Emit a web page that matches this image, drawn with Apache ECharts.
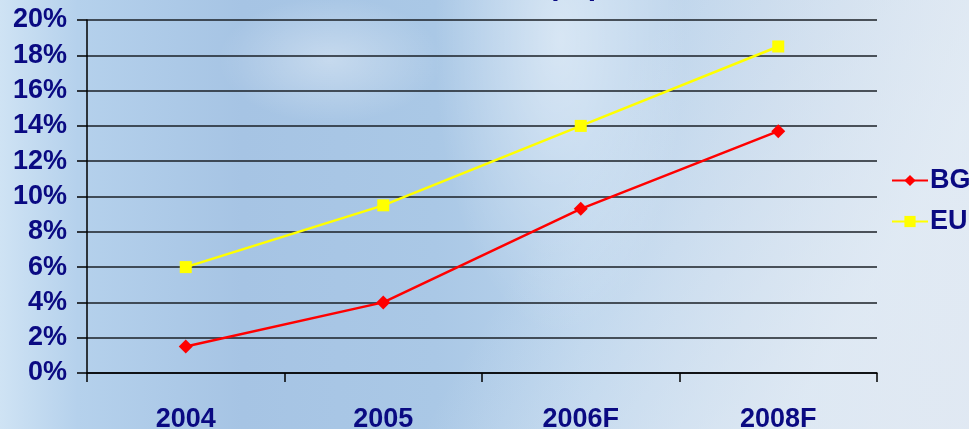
<!DOCTYPE html>
<html>
<head>
<meta charset="utf-8">
<script src="https://cdn.jsdelivr.net/npm/echarts@6/dist/echarts.min.js"></script>
<style>
html, body { margin: 0; padding: 0; }
#myChart {
  width: 969px;
  height: 429px;
  background:
    radial-gradient(ellipse 180px 420px at 560px 40px, rgba(255,255,255,0.45), rgba(255,255,255,0) 70%),
    radial-gradient(ellipse 160px 90px at 330px 60px, rgba(255,255,255,0.35), rgba(255,255,255,0) 70%),
    linear-gradient(120deg, rgba(255,255,255,0) 0%, rgba(255,255,255,0) 55%, rgba(230,238,246,0.7) 85%, rgba(225,233,243,0.9) 100%),
    linear-gradient(90deg, #cfe3f4 0%, #b5d1ec 8%, #a6c4e4 25%, #aac8e6 45%, #b9d3ec 60%, #c7d9ec 80%, #d6e2ef 100%);
}
</style>
</head>
<body>
<div id="myChart"></div>
<script>
// categories and values (percent of population)
var years = ['2004', '2005', '2006F', '2008F'];
var bgValues = [1.5, 4.0, 9.3, 13.7];
var euValues = [6.0, 9.5, 14.0, 18.5];
var titleText = 'Internet users, % of population';

var navy = '#0a0a82';
var labelFont = 'Liberation Sans, Arial, sans-serif';

var myChart = echarts.init(document.getElementById('myChart'), null, { renderer: 'canvas' });
var option = {
  backgroundColor: 'transparent',
  animation: false,
  graphic: [{
    type: 'text',
    left: 'center',
    top: -28,
    style: {
      text: titleText,
      fill: navy,
      font: 'bold 30px ' + labelFont
    }
  }],
  grid: { left: 87, top: 20, right: 92, bottom: 56, outerBoundsMode: 'none' },
  legend: {
    orient: 'vertical',
    left: 886,
    top: 162,
    itemWidth: 36,
    itemHeight: 14,
    itemGap: 14,
    data: ['BG', 'EU'],
    textStyle: { color: navy, fontSize: 27, fontWeight: 'bold', fontFamily: labelFont, padding: [0, 0, 0, -3] }
  },
  xAxis: {
    type: 'category',
    data: years,
    boundaryGap: true,
    axisLine: { lineStyle: { color: '#000', width: 1.5 } },
    axisTick: { show: true, length: 9, lineStyle: { color: '#000', width: 1.5 } },
    axisLabel: { color: navy, fontSize: 27, fontWeight: 'bold', fontFamily: labelFont, margin: 33 },
    splitLine: { show: false }
  },
  yAxis: {
    type: 'value',
    min: 0,
    max: 20,
    interval: 2,
    axisLine: { show: true, lineStyle: { color: '#000', width: 1.5 } },
    axisTick: { show: true, length: 10, lineStyle: { color: '#000', width: 1.5 } },
    axisLabel: { color: navy, fontSize: 27, fontWeight: 'bold', fontFamily: labelFont, margin: 20, formatter: '{value}%' },
    splitLine: { lineStyle: { color: '#1a1f26', width: 1.5 } }
  },
  series: [
    {
      name: 'BG',
      type: 'line',
      data: bgValues,
      symbol: 'diamond',
      symbolSize: 14,
      itemStyle: { color: '#ff0000' },
      lineStyle: { color: '#ff0000', width: 2.5 }
    },
    {
      name: 'EU',
      type: 'line',
      data: euValues,
      symbol: 'rect',
      symbolSize: 12,
      itemStyle: { color: '#ffff00' },
      lineStyle: { color: '#ffff00', width: 2.5 }
    }
  ]
};
myChart.setOption(option);
</script>
</body>
</html>
